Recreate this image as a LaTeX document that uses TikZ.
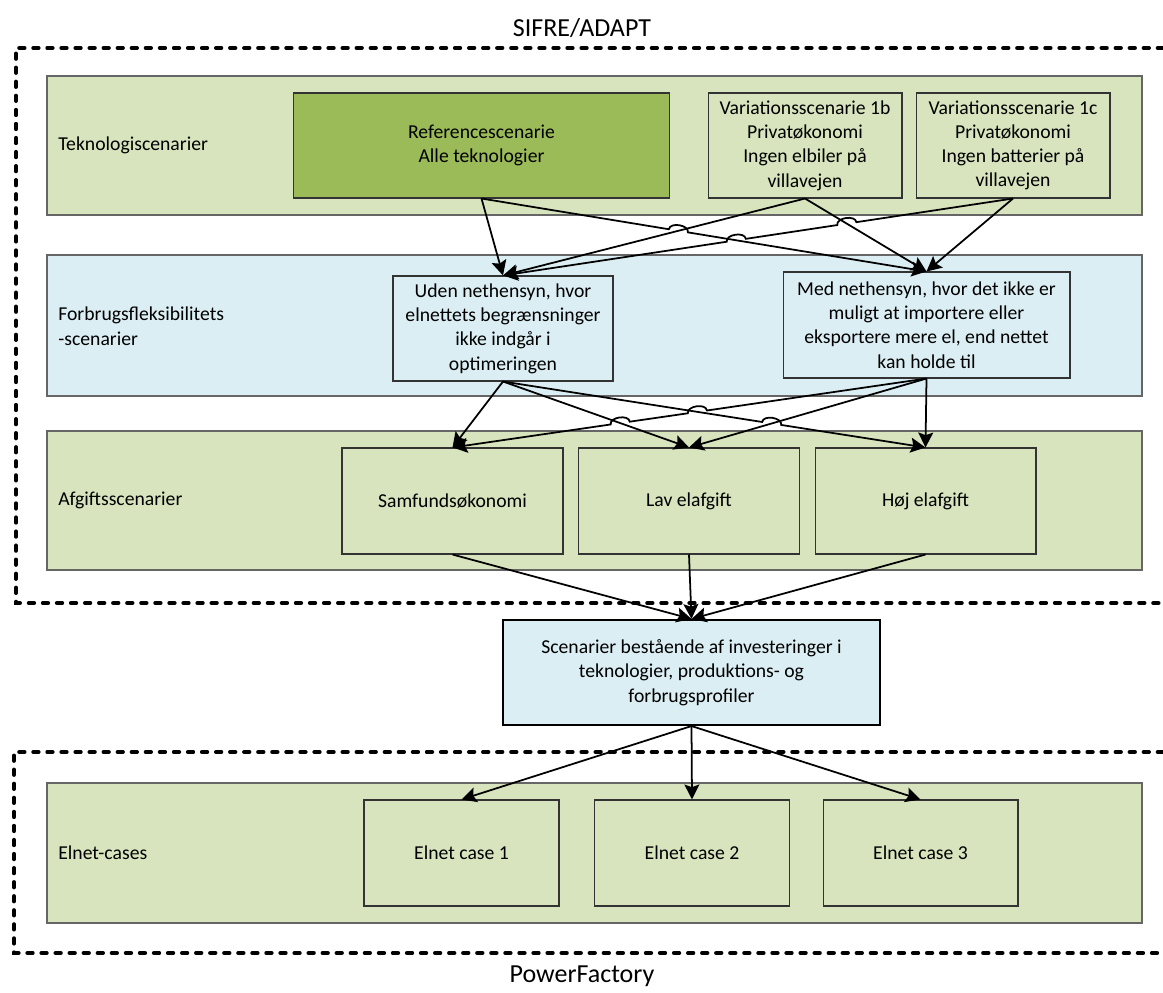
\documentclass[tikz,border=0pt]{standalone}
\usepackage{fontspec}
\setmainfont{Carlito}
\usetikzlibrary{arrows.meta,calc,positioning}

\definecolor{bandgreen}{HTML}{D7E4BD}
\definecolor{refgreen}{HTML}{9BBB59}
\definecolor{bandblue}{HTML}{DBEEF3}

\tikzset{
  band/.style={draw=black!60, line width=0.8pt, minimum width=21.9cm, inner sep=0pt},
  box/.style={draw=black!80, line width=0.6pt, align=center, inner sep=0pt,
    minimum height=2.1cm, font=\fontsize{11.2}{13.8}\selectfont},
  bandlabel/.style={anchor=west, align=left, inner sep=0pt, font=\fontsize{11.2}{14}\selectfont},
  arr/.style={-{Stealth[length=8.5pt,width=8.5pt,inset=1.5pt]}, line width=1pt},
  hop/.style={bend left=90, looseness=1},
  hopr/.style={bend right=90, looseness=1},
  frame/.style={line width=2.3pt, dash pattern=on 3pt off 5pt, line cap=round},
  heading/.style={inner sep=0pt, font=\fontsize{14.8}{17}\selectfont},
}

\begin{document}
\begin{tikzpicture}[x=0.02cm, y=-0.02cm]
\useasboundingbox (0,0) rectangle (1163,993);

% Dashed frames
\node[heading] (sifre) at (582,28) {SIFRE/ADAPT};
\draw[frame] (1163,48) -- (16,48) -- (16,603) -- (1163,603);
\draw[frame] (1163,752) -- (14,752) -- (14,953) -- (1163,953);
\node[heading] (pf) at (582,976) {PowerFactory};

% Bands
\node[band, fill=bandgreen, minimum height=2.78cm] (tekband) at (594.5,145.5) {};
\node[band, fill=bandblue, minimum height=2.82cm] (forband) at (594.5,325.5) {};
\node[band, fill=bandgreen, minimum height=2.78cm] (afgband) at (594.5,500.5) {};
\node[band, fill=bandgreen, minimum height=2.8cm] (elband) at (594.5,853) {};

\node[bandlabel] (teklabel) at (58,145.5) {Teknologiscenarier};
\node[bandlabel] (forlabel) at (58,326.5) {Forbrugsfleksibilitets\\-scenarier};
\node[bandlabel] (afglabel) at (58,500.5) {Afgiftsscenarier};
\node[bandlabel] (ellabel) at (58,853) {Elnet-cases};

% Technology scenarios
\node[box, fill=refgreen, minimum width=7.54cm] (ref) at (481.5,145.5) {Referencescenarie\\Alle teknologier};
\node[box, fill=bandgreen, minimum width=3.88cm] (v1b) at (805,145.5) {Variationsscenarie 1b\\Privatøkonomi\\Ingen elbiler på\\villavejen};
\node[box, fill=bandgreen, minimum width=3.88cm] (v1c) at (1013,145.5) {Variationsscenarie 1c\\Privatøkonomi\\Ingen batterier på\\villavejen};

% Flexibility scenarios
\node[box, fill=bandblue, minimum width=4.4cm] (uden) at (503,328.5) {Uden nethensyn, hvor\\elnettets begrænsninger\\ikke indgår i\\optimeringen};
\node[box, fill=bandblue, minimum width=5.74cm, minimum height=2.12cm] (med) at (926.5,325) {Med nethensyn, hvor det ikke er\\muligt at importere eller\\eksportere mere el, end nettet\\kan holde til};

% Tax scenarios
\node[box, fill=bandgreen, minimum width=4.42cm, minimum height=2.12cm] (samf) at (452.5,501) {Samfundsøkonomi};
\node[box, fill=bandgreen, minimum width=4.42cm, minimum height=2.12cm] (lav) at (689,501) {Lav elafgift};
\node[box, fill=bandgreen, minimum width=4.42cm, minimum height=2.12cm] (hoej) at (925.5,501) {Høj elafgift};

% Result
\node[box, fill=bandblue, draw=black, line width=1.2pt, minimum width=7.54cm] (scen) at (691.5,672.5) {Scenarier bestående af investeringer i\\teknologier, produktions- og\\forbrugsprofiler};

% Grid cases
\node[box, fill=bandgreen, minimum width=3.9cm, minimum height=2.12cm] (case1) at (461.5,853) {Elnet case 1};
\node[box, fill=bandgreen, minimum width=3.9cm, minimum height=2.12cm] (case2) at (692,853) {Elnet case 2};
\node[box, fill=bandgreen, minimum width=3.9cm, minimum height=2.12cm] (case3) at (920.5,853) {Elnet case 3};

% Crossings, upper section
\coordinate (c1) at (intersection of ref.south--med.north and v1b.south--uden.north);
\coordinate (c2) at (intersection of v1c.south--uden.north and ref.south--med.north);
\coordinate (c3) at (intersection of v1c.south--uden.north and v1b.south--med.north);
\coordinate (c1a) at ($(c1)!5.5pt!(ref.south)$);
\coordinate (c1b) at ($(c1)!5.5pt!(med.north)$);
\coordinate (c2a) at ($(c2)!5.5pt!(v1c.south)$);
\coordinate (c2b) at ($(c2)!5.5pt!(uden.north)$);
\coordinate (c3a) at ($(c3)!5.5pt!(v1c.south)$);
\coordinate (c3b) at ($(c3)!5.5pt!(uden.north)$);

% Crossings, lower section
\coordinate (d1) at (intersection of med.south--samf.north and uden.south--hoej.north);
\coordinate (d2) at (intersection of med.south--samf.north and uden.south--lav.north);
\coordinate (d3) at (intersection of uden.south--hoej.north and med.south--lav.north);
\coordinate (d1a) at ($(d1)!5.5pt!(med.south)$);
\coordinate (d1b) at ($(d1)!5.5pt!(samf.north)$);
\coordinate (d2a) at ($(d2)!5.5pt!(med.south)$);
\coordinate (d2b) at ($(d2)!5.5pt!(samf.north)$);
\coordinate (d3a) at ($(d3)!5.5pt!(uden.south)$);
\coordinate (d3b) at ($(d3)!5.5pt!(hoej.north)$);

% Arrows technology -> flexibility
\draw[arr] (ref.south) -- (uden.north);
\draw[arr] (ref.south) -- (c1a) to[hop] (c1b) -- (med.north);
\draw[arr] (v1b.south) -- (uden.north);
\draw[arr] (v1b.south) -- (med.north);
\draw[arr] (v1c.south) -- (c3a) to[hopr] (c3b) -- (c2a) to[hopr] (c2b) -- (uden.north);
\draw[arr] (v1c.south) -- (med.north);

% Arrows flexibility -> tax
\draw[arr] (uden.south) -- (samf.north);
\draw[arr] (uden.south) -- (lav.north);
\draw[arr] (uden.south) -- (d3a) to[hop] (d3b) -- (hoej.north);
\draw[arr] (med.south) -- (d1a) to[hopr] (d1b) -- (d2a) to[hopr] (d2b) -- (samf.north);
\draw[arr] (med.south) -- (lav.north);
\draw[arr] (med.south) -- (hoej.north);

% Arrows tax -> result
\draw[arr] (samf.south) -- (scen.north);
\draw[arr] (lav.south) -- (scen.north);
\draw[arr] (hoej.south) -- (scen.north);

% Arrows result -> grid cases
\draw[arr] (scen.south) -- (case1.north);
\draw[arr] (scen.south) -- (case2.north);
\draw[arr] (scen.south) -- (case3.north);

\end{tikzpicture}
\end{document}
